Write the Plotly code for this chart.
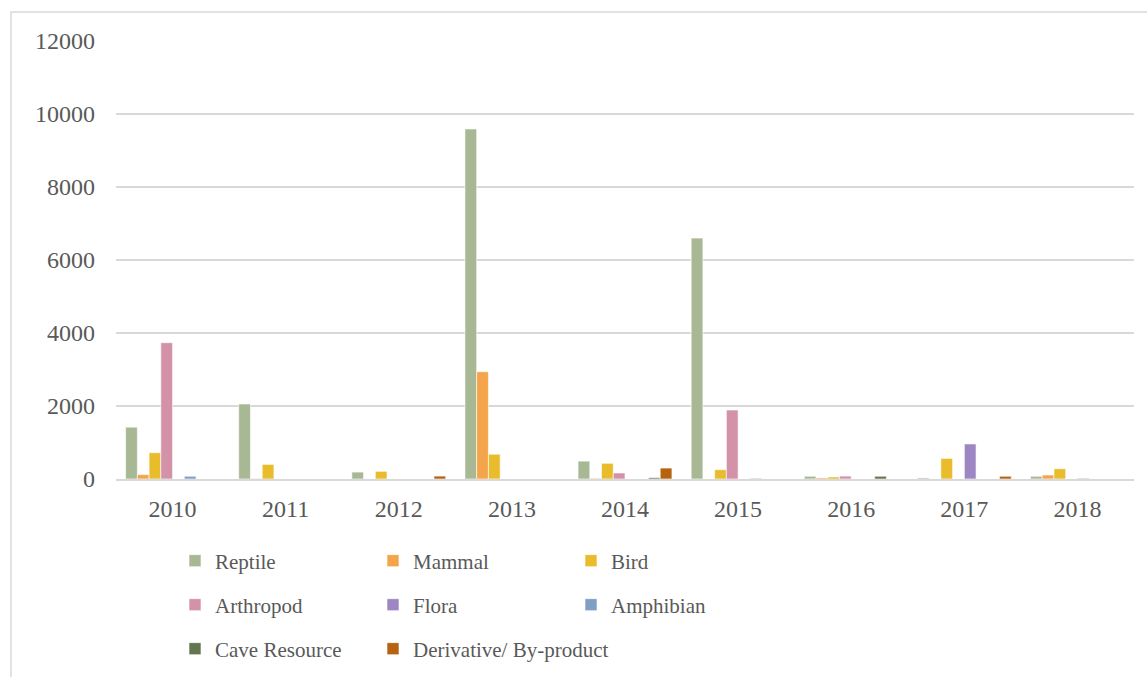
import plotly.graph_objects as go

years = ["2010", "2011", "2012", "2013", "2014", "2015", "2016", "2017", "2018"]
series_names = ["Reptile", "Mammal", "Bird", "Arthropod", "Flora", "Amphibian",
                "Cave Resource", "Derivative/ By-product"]
reptile = [1420, 2055, 190, 9590, 490, 6600, 75, 30, 75]
mammal = [120, 10, 0, 2940, 20, 0, 30, 0, 110]
bird = [720, 400, 210, 680, 430, 255, 55, 565, 280]
arthropod = [3735, 0, 0, 0, 165, 1890, 80, 0, 0]
flora = [0, 0, 0, 0, 0, 0, 0, 960, 20]
amphibian = [75, 0, 0, 0, 0, 20, 0, 0, 0]
cave_resource = [0, 0, 0, 0, 35, 0, 75, 0, 0]
derivative = [0, 0, 80, 0, 300, 0, 0, 75, 0]
colors = ["#A9B894", "#F4A44A", "#E8BC2A", "#D392A8", "#9E86C2", "#7F9FC4",
          "#627650", "#B5630F"]

values = [reptile, mammal, bird, arthropod, flora, amphibian, cave_resource, derivative]
legend_ids = ["legend", "legend", "legend", "legend2", "legend2", "legend2",
              "legend3", "legend4"]

FONT = "Liberation Serif"
TXT = "#595959"

fig = go.Figure()
for name, vals, col, lg in zip(series_names, values, colors, legend_ids):
    fig.add_trace(go.Bar(
        x=years, y=vals, name=name, legend=lg,
        marker=dict(color=col, line=dict(color="white", width=0.6)),
    ))

W, H = 1147, 677
L, R, T, B = 116, 13, 41, 198
pw, ph = W - L - R, H - T - B

def py(ypix):
    return (H - B - ypix) / ph

def px(xpix):
    return (xpix - L) / pw

def leg(xpix, ypix, ew=153):
    return dict(orientation="h", xanchor="left", yanchor="middle",
                x=px(xpix), y=py(ypix),
                entrywidth=ew, entrywidthmode="pixels",
                font=dict(family=FONT, size=21, color=TXT),
                bgcolor="rgba(0,0,0,0)", itemwidth=30)

fig.update_layout(
    width=W, height=H,
    margin=dict(l=L, r=R, t=T, b=B, autoexpand=False),
    paper_bgcolor="white", plot_bgcolor="white",
    barmode="group", bargap=0.17, bargroupgap=0.0,
    font=dict(family=FONT, size=22, color=TXT),
    showlegend=True,
    legend=leg(175, 561),
    legend2=leg(175, 605),
    legend3=leg(175, 649),
    legend4=leg(373, 649, 260),
    xaxis=dict(showgrid=False, showline=True, linecolor="#D9D9D9", linewidth=2,
               ticks="", tickfont=dict(family=FONT, size=24, color=TXT),
               ticklabelstandoff=7, automargin=False),
    yaxis=dict(range=[0, 12000], dtick=2000, showgrid=True, gridcolor="#D9D9D9",
               gridwidth=1.5, zeroline=False, showline=False, ticks="",
               tickfont=dict(family=FONT, size=24, color=TXT),
               ticklabelstandoff=20, tickformat="d", automargin=False),
    shapes=[dict(type="rect", xref="paper", yref="paper",
                 x0=px(11), x1=px(1160), y0=py(700), y1=py(12),
                 line=dict(color="#D9D9D9", width=1.5), layer="below")],
)

fig.write_html("out.html")
